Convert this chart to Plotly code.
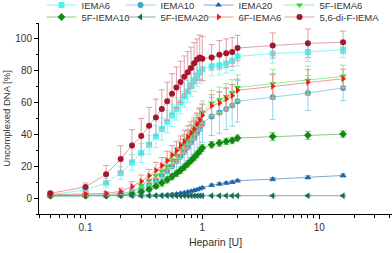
import plotly.graph_objects as go

heparin = [0.05, 0.1, 0.15, 0.2, 0.25, 0.3, 0.35, 0.4, 0.45, 0.5, 0.55, 0.6, 0.65, 0.7,
           0.75, 0.8, 0.85, 0.9, 0.95, 1.0, 1.2, 1.4, 1.6, 1.8, 2, 4, 8, 16]

iema6 = [2, 5.2, 9.4, 15.7, 22.4, 28.3, 33.5, 38.7, 43.4, 48, 52, 56, 60, 64, 67, 71, 74,
         77, 79, 81, 82.8, 83.4, 84.5, 86.2, 89, 90.8, 91.8, 93.3]
iema6_err = [1, 2, 3, 4, 5, 6, 6, 7, 7, 7, 7, 7, 7, 7, 7, 7, 7, 7, 7, 7, 6, 6, 6, 6, 6, 6, 6, 5]

iema10 = [2, 2, 2, 3, 4, 6, 8, 11, 14, 17, 20, 23, 26, 29, 32, 35, 38, 41, 44, 47,
          51.3, 53.8, 56, 58.2, 60.8, 63.3, 66, 69.2]
iema10_err = [1, 1, 1, 1, 2, 2, 3, 4, 5, 6, 7, 8, 9, 10, 10, 11, 11, 12, 12, 12,
              12, 13, 13, 13, 13, 14, 11, 8]

iema20 = [1.5, 1.5, 1.5, 1.5, 1.5, 1.5, 1.5, 1.6, 1.8, 2, 2.3, 2.6, 3, 3.4, 3.8, 4.3, 4.8,
          5.3, 5.8, 6.5, 8, 8.8, 9.4, 10, 10.9, 11.9, 13, 14.2]
iema20_err = [0.5] * 20 + [0.8, 0.8, 0.8, 0.8, 0.8, 1, 1, 1]

f5_iema6 = [1, 1.5, 1.5, 2, 3.5, 8, 11, 14, 17, 20, 24, 27, 31, 34, 37, 40, 43, 46, 50, 54,
            59.7, 61.8, 63.9, 66.4, 69.4, 71.9, 74, 76.5]
f5_iema6_err = [0.5, 1, 1, 1, 2, 3, 3, 4, 4, 5, 5, 5, 6, 6, 6, 6, 6, 6, 7, 7,
                8, 8, 8, 8, 8, 9, 9, 7]

f5_iema10 = [1.5, 1.5, 1.5, 2, 2.5, 4, 5.5, 7.5, 9.5, 11.5, 13.5, 15.5, 17.5, 19.5, 21.5,
             23.5, 25.5, 27.5, 29.5, 31.5, 33.5, 34.6, 35.6, 36.2, 37.7, 38.7, 39.4, 40.2]
f5_iema10_err = [0.5, 0.5, 0.5, 1, 1, 1, 1.5, 1.5, 2, 2, 2, 2, 2, 2, 2, 2, 2, 2, 2, 2,
                 2, 2, 2, 2, 2, 2.5, 2.5, 2]

f5_iema20 = [1.5] * 28
f5_iema20_err = [0.5] * 28

f6_iema6 = [2, 2.5, 3, 4.2, 7.3, 10.5, 14, 17.4, 20.5, 23.5, 27, 29.7, 33, 35.6, 38.4, 41,
            43.4, 46.5, 49, 52, 58, 59.7, 62.2, 64.3, 67.7, 70.2, 72.7, 75]
f6_iema6_err = [0.5, 1, 1, 2, 3, 4, 4, 5, 5, 6, 6, 6, 6, 7, 7, 7, 7, 7, 7, 7,
                7, 7, 7, 7, 7, 8, 8, 6]

difiema = [3, 7, 15, 24.5, 33, 39, 45.5, 50.7, 56, 60.8, 65.6, 69.4, 73, 76.3, 79, 81.8,
           84.7, 87, 88.4, 87.6, 88.4, 90, 91, 91.8, 94.3, 95.8, 97.2, 97.9]
difiema_err = [1, 2.5, 5.5, 8.4, 10, 11, 11.5, 11.5, 12, 12, 12.5, 13, 13, 13, 13, 13,
               13, 13, 14, 14, 8, 9, 9, 9, 8, 8, 9, 7]

series = [
    ("IEMA6", iema6, iema6_err, "#4ff2f2", "rgba(130,245,245,0.9)", "square"),
    ("IEMA10", iema10, iema10_err, "#3aa9c6", "rgba(140,205,235,0.9)", "circle"),
    ("IEMA20", iema20, iema20_err, "#1c64a6", "rgba(110,160,200,0.9)", "triangle-up"),
    ("5F-IEMA6", f5_iema6, f5_iema6_err, "#22dd22", "rgba(140,235,140,0.9)", "triangle-down"),
    ("5F-IEMA10", f5_iema10, f5_iema10_err, "#118a11", "rgba(120,200,120,0.9)", "diamond"),
    ("5F-IEMA20", f5_iema20, f5_iema20_err, "#176a55", "rgba(110,170,150,0.9)", "triangle-left"),
    ("6F-IEMA6", f6_iema6, f6_iema6_err, "#ee1a1a", "rgba(240,140,140,0.9)", "triangle-right"),
    ("5,6-di-F-IEMA", difiema, difiema_err, "#a5172d", "rgba(220,150,160,0.9)", "circle"),
]

W, H = 392, 253
ML, MR, MT, MB = 39, 0, 23, 39
PW, PH = W - ML - MR, H - MT - MB
col_left_px = [41.5, 120.5, 198.5, 279.5]
row_center_px = [5, 17]

fig = go.Figure()
legends = {}
for i, (name, y, err, mc, lc, sym) in enumerate(series):
    key = "legend" if i == 0 else f"legend{i + 1}"
    r, c = divmod(i, 4)
    legends[key] = dict(
        x=(col_left_px[c] - ML) / PW, xanchor="left",
        y=1 + (MT - row_center_px[r]) / PH, yanchor="middle",
        orientation="h", font=dict(size=9.5, color="#333"),
        bgcolor="rgba(0,0,0,0)", itemwidth=30)
    fig.add_trace(go.Scatter(
        x=heparin, y=y, name=name, mode="lines+markers", legend=key,
        line=dict(color=lc, width=1),
        marker=dict(color=mc, symbol=sym, size=6, line=dict(width=0)),
        error_y=dict(type="data", array=err, visible=True, color=lc,
                     thickness=1, width=3),
    ))

font = "Liberation Sans, Arial, sans-serif"
fig.update_layout(
    width=W, height=H,
    margin=dict(l=ML, r=MR, t=MT, b=MB, pad=0, autoexpand=False),
    paper_bgcolor="white", plot_bgcolor="white",
    font=dict(family=font, size=10, color="#333"),
    showlegend=True,
    xaxis=dict(type="log", range=[-1.398, 1.623], showline=True, linecolor="black",
               linewidth=1, showgrid=False, zeroline=False,
               tickvals=[0.1, 1, 10], ticktext=["0.1", "1", "10"],
               ticks="outside", ticklen=4, tickcolor="black",
               minor=dict(tickvals=[0.04, 0.05, 0.06, 0.07, 0.08, 0.09, 0.2, 0.3, 0.4, 0.5,
                                    0.6, 0.7, 0.8, 0.9, 2, 3, 4, 5, 6, 7, 8, 9, 20, 30, 40],
                          ticks="outside", ticklen=2.5, tickcolor="black", showgrid=False),
               title=dict(text="Heparin [U]", font=dict(size=10.5), standoff=6)),
    yaxis=dict(range=[-10, 110], showline=True, linecolor="black", linewidth=1,
               showgrid=False, zeroline=False, tickvals=[0, 20, 40, 60, 80, 100],
               ticks="outside", ticklen=4, tickcolor="black",
               minor=dict(dtick=10, tick0=0, ticks="outside", ticklen=2.5, tickcolor="black",
                          showgrid=False),
               title=dict(text="Uncomplexed DNA [%]", font=dict(size=9.5), standoff=2)),
    **legends,
)

fig.write_html("out.html", config={"displayModeBar": False},
               post_script="document.body.style.margin='0';")
